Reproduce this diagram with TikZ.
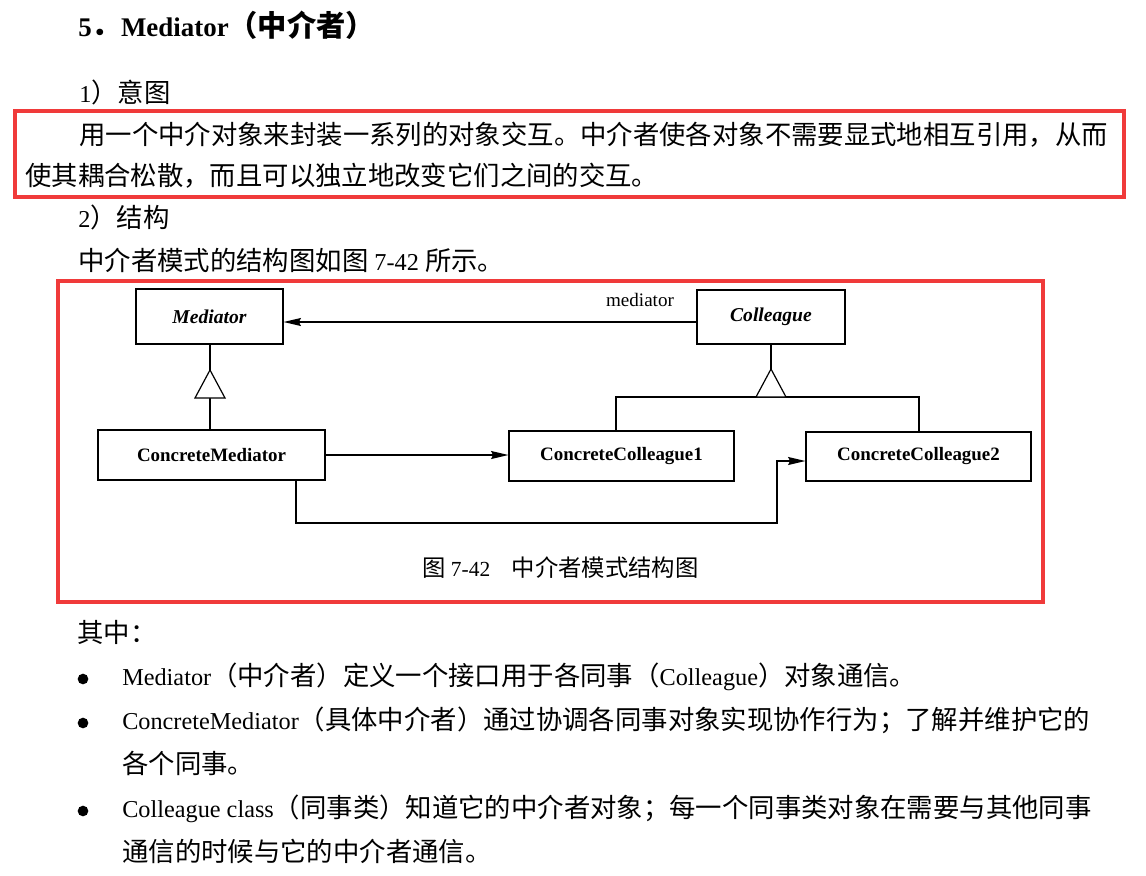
\documentclass[tikz,border=0pt]{standalone}
\usepackage{fontspec}
\setmainfont{Liberation Serif}
\newfontfamily\cjk{Noto Sans CJK SC}[Scale=1.087]
\usetikzlibrary{arrows.meta}
\definecolor{markred}{RGB}{240,58,58}
\newcommand\zh[1]{{\cjk #1}}
\begin{document}
\begin{tikzpicture}[x=0.75pt,y=-0.75pt,
  body/.style={anchor=base west, inner sep=0, font=\fontsize{18.2pt}{22pt}\selectfont},
  cls/.style={draw, line width=0.9pt, inner sep=0, font=\fontsize{14.2pt}{18pt}\selectfont\bfseries},
  abscls/.style={cls, font=\fontsize{14.7pt}{18pt}\selectfont\bfseries\itshape},
  conn/.style={line width=0.9pt},
  arr/.style={conn, -{Stealth[length=13pt,width=6pt,inset=1.5pt]}},
  redbox/.style={draw=markred, line width=2.3pt},
  dot/.style={circle, fill=black, inner sep=0, minimum size=8pt}]
\useasboundingbox (0,0) rectangle (1146,875);
\fill[white] (0,0) rectangle (1146,875);

% headings and text
\node[body, font=\fontsize{20.2pt}{24pt}\selectfont\bfseries] (title) at (78,36) {5\zh{．}Mediator\zh{（中介者）}};
\node[body] (intent) at (79,102) {1\zh{）意图}};
\node[body] (l1) at (79,144) {\zh{用一个中介对象来封装一系列的对象交互。中介者使各对象不需要显式地相互引用，从而}};
\node[body] (l2) at (25,185) {\zh{使其耦合松散，而且可以独立地改变它们之间的交互。}};
\node[body] (struct) at (78,227) {2\zh{）结构}};
\node[body] (intro) at (78,270) {\zh{中介者模式的结构图如图} 7-42 \zh{所示。}};

% red highlight boxes
\draw[redbox] (15,111) rectangle (1124,197);
\draw[redbox] (58,281) rectangle (1043,602);

% diagram classes
\node[abscls, minimum width=110.25pt, minimum height=41.25pt] (mediator) at (209.5,316.5) {Mediator};
\node[abscls, minimum width=111pt, minimum height=40.5pt] (colleague) at (771,317) {Colleague};
\node[cls, minimum width=170.25pt, minimum height=37.5pt] (cm) at (211.5,455) {ConcreteMediator};
\node[cls, minimum width=168.75pt, minimum height=37.5pt] (cc1) at (621.5,456) {ConcreteColleague1};
\node[cls, minimum width=168.75pt, minimum height=36.75pt] (cc2) at (918.5,456.5) {ConcreteColleague2};

% mediator association
\coordinate (my) at (0,322);
\draw[arr] (colleague.west |- my) -- (mediator.east |- my);
\node[anchor=base, inner sep=0, font=\fontsize{14.3pt}{17pt}\selectfont] (medlabel) at (640,306) {mediator};

% Mediator inheritance
\coordinate (t1a) at (210,370);
\coordinate (t1l) at (195,398);
\coordinate (t1r) at (225,398);
\coordinate (t1b) at (210,398);
\draw[conn] (mediator.south -| t1a) -- (t1a);
\draw[conn] (t1b) -- (t1b |- cm.north);
\draw[conn, fill=white] (t1a) -- (t1l) -- (t1r) -- cycle;

% Colleague inheritance
\coordinate (t2a) at (771,369);
\coordinate (t2l) at (756,397);
\coordinate (t2r) at (786,397);
\coordinate (h1) at (616,397);
\coordinate (h2) at (919,397);
\draw[conn] (colleague.south) -- (t2a);
\draw[conn] (h1 |- cc1.north) -- (h1) -- (h2) -- (h2 |- cc2.north);
\draw[conn, fill=white] (t2a) -- (t2l) -- (t2r) -- cycle;

% ConcreteMediator references
\draw[arr] (cm.east) -- (cc1.west |- cm.east);
\coordinate (c1) at (296,523);
\coordinate (c2) at (777,461);
\draw[arr] (c1 |- cm.south) -- (c1) -| (c2) -- (c2 -| cc2.west);

% caption
\node[body, font=\fontsize{16.1pt}{20pt}\selectfont] (caption) at (422,576) {\zh{图} 7-42\quad\zh{中介者模式结构图}};

% list
\node[body] (among) at (77,642) {\zh{其中：}};
\node[dot] (b1) at (83,679) {};
\node[dot] (b2) at (83,723) {};
\node[dot] (b3) at (83,811) {};
\node[body] (i1) at (122,685) {Mediator\zh{（中介者）定义一个接口用于各同事（}Colleague\zh{）对象通信。}};
\node[body] (i2) at (122,729) {ConcreteMediator\zh{（具体中介者）通过协调各同事对象实现协作行为；了解并维护它的}};
\node[body] (i2b) at (122,773) {\zh{各个同事。}};
\node[body] (i3) at (122,817) {Colleague class\zh{（同事类）知道它的中介者对象；每一个同事类对象在需要与其他同事}};
\node[body] (i3b) at (122,861) {\zh{通信的时候与它的中介者通信。}};
\end{tikzpicture}
\end{document}
